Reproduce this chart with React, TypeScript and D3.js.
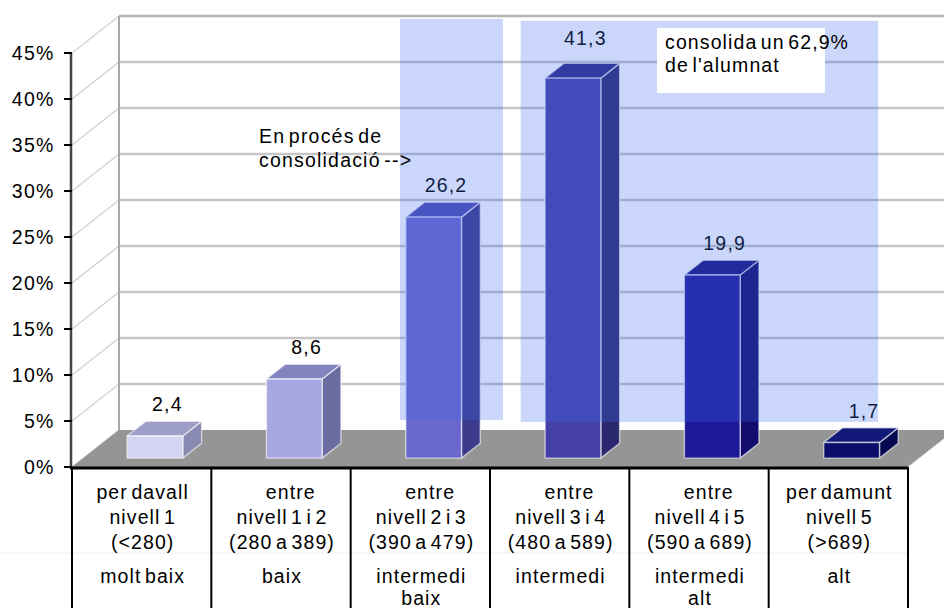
import * as d3 from 'd3';

// ---------- data ----------
const categories = ['molt baix', 'baix', 'intermedi baix', 'intermedi', 'intermedi alt', 'alt'];
const values = [2.4, 8.6, 26.2, 41.3, 19.9, 1.7];
const valueLabels = ['2,4', '8,6', '26,2', '41,3', '19,9', '1,7'];
const yTicks = [0, 5, 10, 15, 20, 25, 30, 35, 40, 45];
const rangeLines = [
  ['per davall', 'nivell 1', '(<280)'],
  ['\u00a0\u00a0\u00a0\u00a0\u00a0entre', 'nivell 1 i 2', '(280 a 389)'],
  ['\u00a0\u00a0\u00a0\u00a0\u00a0entre', 'nivell 2 i 3', '(390 a 479)'],
  ['\u00a0\u00a0\u00a0\u00a0\u00a0entre', 'nivell 3 i 4', '(480 a 589)'],
  ['\u00a0\u00a0\u00a0\u00a0\u00a0entre', 'nivell 4 i 5', '(590 a 689)'],
  ['per damunt', 'nivell 5', '(>689)'],
];
const levelLines = [['molt baix'], ['baix'], ['intermedi', 'baix'], ['intermedi'], ['intermedi', 'alt'], ['alt']];

const frontColors = ['#d3d4f2', '#a6a7e3', '#6a68cc', '#4540a8', '#1d1a99', '#0b0d68'];
const topColors = ['#9e9fc9', '#8384bf', '#4e4cb2', '#2c2a86', '#18147e', '#121878'];
const sideColors = ['#898ab2', '#6b6ca0', '#3d3b8c', '#2c2870', '#120c6e', '#070950'];

// highlighted zones (category units / percent units)
const zoneX0 = [2.354, 3.22];
const zoneX1 = [3.093, 5.785];
const zoneTop = [48.7, 48.5];
const zoneBottom = [5.1, 4.9];

const noteLines = ['consolida un 62,9%', "de l'alumnat"];
const sideNoteLines = ['En procés de', 'consolidació -->'];

// ---------- layout ----------
const W = 944;
const H = 608;
const X0 = 72;
const X1 = 908;
const DX = 47; // depth vector of the 3d box
const DY = -37;
const D0 = 0.24; // bar depth (front / back)
const D1 = 0.64;
const FONT = "Arial, 'Liberation Sans', sans-serif";
const FS = 19.5;

const App = () => {
  const y = d3.scaleLinear().domain([0, 45]).range([467, 53]);
  const xBand = d3.scaleBand<string>().domain(categories).range([X0, X1]).paddingInner(0.6).paddingOuter(0.3);
  const xCat = d3.scaleLinear().domain([0, categories.length]).range([X0, X1]);
  const bw = xBand.bandwidth();
  const colW = xCat(1) - xCat(0);

  const line = d3.line();

  const floor: [number, number][] = [
    [X0, y(0)],
    [X1, y(0)],
    [X1 + DX, y(0) + DY],
    [X0 + DX, y(0) + DY],
  ];

  const bars = values.map((v, i) => {
    const xl = (xBand(categories[i]) as number) + 2 + DX * D0;
    const xr = xl + bw;
    const yb = y(0) + DY * D0;
    const yt = y(v) + DY * D0;
    const sdx = DX * (D1 - D0);
    const sdy = DY * (D1 - D0);
    return { v, i, xl, xr, yb, yt, sdx, sdy };
  });

  const gridTicks = yTicks.filter((t) => t > 0);

  return (
    <svg width={W} height={H} style={{ position: 'absolute', left: 0, top: 0, background: '#fff' }} fontFamily={FONT}>
      {/* back wall grid */}
      {gridTicks.map((t) => (
        <line key={'g' + t} x1={X0 + DX} x2={W + 20} y1={y(t) + DY} y2={y(t) + DY}
          stroke={t === 45 ? '#b4b4b4' : '#c6c6c6'} strokeWidth={2.5} />
      ))}
      {/* side wall diagonals */}
      {yTicks.map((t) => (
        <line key={'s' + t} x1={X0} y1={y(t)} x2={X0 + DX} y2={y(t) + DY} stroke="#d4d4d4" strokeWidth={1.5} />
      ))}
      <line x1={X0 + DX} x2={X0 + DX} y1={y(45) + DY} y2={y(0) + DY} stroke="#a8a8a8" strokeWidth={2} />

      {/* floor */}
      <path d={line(floor) + 'Z'} fill="#959595" />
      <line x1={X1} y1={y(0)} x2={X1 + DX} y2={y(0) + DY} stroke="#d8d8d8" strokeWidth={1} />

      {/* bars */}
      {bars.map((b) => (
        <g key={'b' + b.i} stroke="rgba(255,255,255,0.6)" strokeWidth={1.4} strokeLinejoin="round">
          <path d={line([[b.xr, b.yt], [b.xr + b.sdx, b.yt + b.sdy], [b.xr + b.sdx, b.yb + b.sdy], [b.xr, b.yb]]) + 'Z'}
            fill={sideColors[b.i]} />
          <path d={line([[b.xl, b.yt], [b.xr, b.yt], [b.xr + b.sdx, b.yt + b.sdy], [b.xl + b.sdx, b.yt + b.sdy]]) + 'Z'}
            fill={topColors[b.i]} />
          <rect x={b.xl} y={b.yt} width={bw} height={b.yb - b.yt} fill={frontColors[b.i]} />
        </g>
      ))}

      {/* value labels */}
      {bars.map((b) => (
        <text key={'v' + b.i} x={(b.xl + b.xr + b.sdx) / 2 + 3} y={b.yt + b.sdy - 10 - (b.v > 40 ? 8 : 0)}
          textAnchor="middle" fontSize={FS} letterSpacing={1.2} fill="#000">
          {valueLabels[b.i]}
        </text>
      ))}

      {/* highlighted zones */}
      {zoneX0.map((z, i) => (
        <rect key={'z' + i} x={xCat(z)} y={y(zoneTop[i])} width={xCat(zoneX1[i]) - xCat(z)}
          height={y(zoneBottom[i]) - y(zoneTop[i])} fill="#3a6cee" fillOpacity={0.27} />
      ))}

      {/* note box */}
      <rect x={xCat(4.199)} y={y(47.7)} width={xCat(5.404) - xCat(4.199)} height={y(40.65) - y(47.7)} fill="#fff" />
      {noteLines.map((t, k) => (
        <text key={'n' + k} x={xCat(4.199) + 8} y={y(47.7) + 21 + k * 23} fontSize={FS} letterSpacing={1.1} wordSpacing={-3}>
          {t}
        </text>
      ))}
      {sideNoteLines.map((t, k) => (
        <text key={'sn' + k} x={xCat(1.342)} y={y(35.2) + k * 24} fontSize={FS} letterSpacing={1.2} wordSpacing={-3}>
          {t}
        </text>
      ))}

      {/* front value axis */}
      <line x1={X0 - 1} x2={X0 - 1} y1={y(45)} y2={y(0)} stroke="#444" strokeWidth={2.5} />
      {yTicks.map((t) => (
        <g key={'t' + t}>
          <line x1={X0 - 8} x2={X0} y1={y(t)} y2={y(t)} stroke="#000" strokeWidth={2} />
          <text x={54.5} y={y(t) + 7} textAnchor="end" fontSize={FS} letterSpacing={1.2}>
            {t + '%'}
          </text>
        </g>
      ))}

      {/* data table under the axis */}
      <line x1={0} x2={X1} y1={553} y2={553} stroke="#eeeeee" strokeWidth={1} />
      <line x1={X0 - 2} x2={X1} y1={y(0) + 1} y2={y(0) + 1} stroke="#000" strokeWidth={3} />
      {d3.range(categories.length + 1).map((k) => (
        <line key={'c' + k} x1={xCat(k)} x2={xCat(k)} y1={y(0)} y2={H} stroke="#000" strokeWidth={2} />
      ))}
      {categories.map((c, i) => {
        const cx = xCat(i) + colW / 2;
        return (
          <g key={'l' + i} fontSize={FS} letterSpacing={1.1} wordSpacing={-3} textAnchor="middle" style={{ whiteSpace: 'pre' }}>
            {rangeLines[i].map((t, k) => (
              <text key={k} x={cx + 1} y={499 + k * 25}>{t}</text>
            ))}
            {levelLines[i].map((t, k) => (
              <text key={'lv' + k} x={cx + 1} y={583 + k * 22}>{t}</text>
            ))}
          </g>
        );
      })}
    </svg>
  );
};

export default App;
